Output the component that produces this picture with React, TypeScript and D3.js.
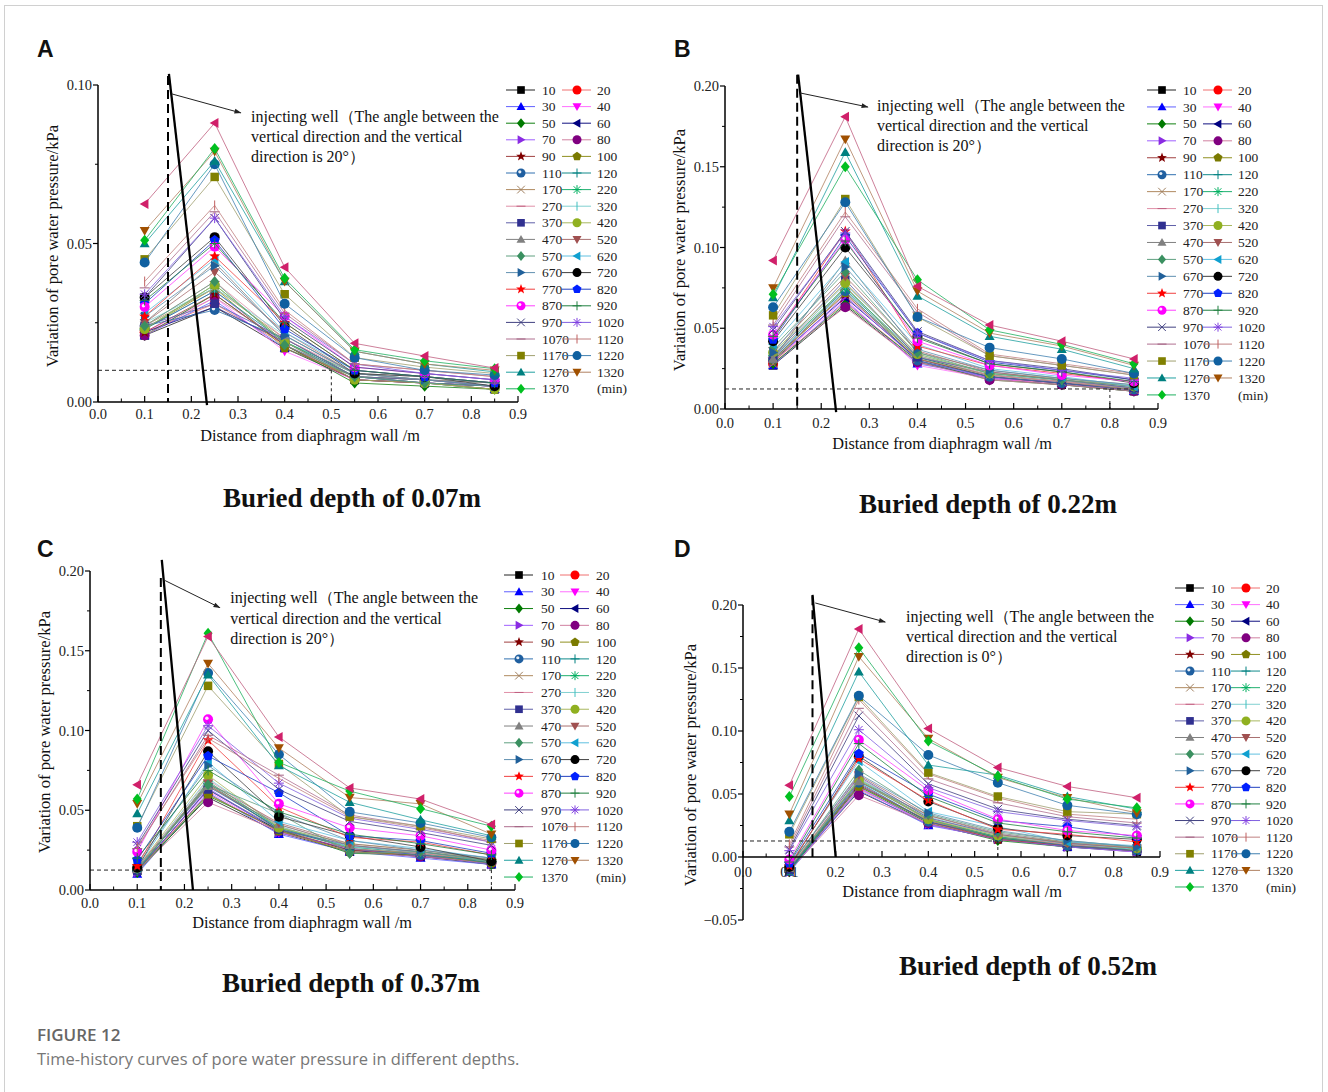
import React from 'react';
import * as d3 from 'd3';

// ---------- DATA ----------
const distances = [0.1, 0.25, 0.4, 0.55, 0.7, 0.85];

const times = [10, 20, 30, 40, 50, 60, 70, 80, 90, 100, 110, 120, 170, 220, 270, 320, 370, 420, 470, 520,
  570, 620, 670, 720, 770, 820, 870, 920, 970, 1020, 1070, 1120, 1170, 1220, 1270, 1320, 1370];
// last series (crimson ◀) has no legend entry in the reference
const extraLabel = '1420';

const markerShapes = ['square', 'circle', 'triUp', 'triDown', 'diamond', 'triLeft', 'triRight', 'circle', 'star', 'pentagon',
  'sphere', 'plus', 'cross', 'asterisk', 'hline', 'vline', 'square', 'circle', 'triUp', 'triDown',
  'diamond', 'triLeft', 'triRight', 'circle', 'star', 'pentagon', 'sphere', 'plus', 'cross', 'asterisk',
  'hline', 'vline', 'square', 'circle', 'triUp', 'triDown', 'diamond', 'triLeft'];

const markerColors = ['#000000', '#ff0000', '#0000ff', '#ff00ff', '#007a00', '#000080', '#8a2be2', '#800080', '#800000', '#7a7a00',
  '#1f5fa0', '#008080', '#a08060', '#00b060', '#c06080', '#40c0c0', '#303090', '#90b020', '#808080', '#a05050',
  '#3a9060', '#10a0d0', '#20609a', '#000000', '#ff0000', '#0020ff', '#ff00ff', '#208040', '#404080', '#8040e0',
  '#a06080', '#c06060', '#808000', '#1060a0', '#008080', '#a05000', '#00c020', '#d0206a'];

const lineColors = ['#222222', '#f07070', '#6060ff', '#ff70ff', '#108010', '#101080', '#a060ff', '#d080a0', '#a04040', '#909020',
  '#3070b0', '#108a8a', '#b08a60', '#20b070', '#e090a8', '#80d0d0', '#6060a8', '#a8b860', '#808080', '#a87070',
  '#60a080', '#60c0e0', '#6090b0', '#404040', '#f04040', '#2040c0', '#ff40ff', '#208040', '#404080', '#8060e0',
  '#b07090', '#c08080', '#a0a070', '#4080b0', '#20a0a0', '#b08060', '#20b060', '#c06080'];

// values at distances 0.1, 0.25, 0.4, 0.55, 0.7, 0.85 (kPa) — one row per time
const depth007 = [
  [0.021, 0.030, 0.017, 0.007, 0.006, 0.004],
  [0.022, 0.031, 0.018, 0.007, 0.006, 0.005],
  [0.021, 0.032, 0.017, 0.008, 0.006, 0.004],
  [0.022, 0.033, 0.016, 0.007, 0.006, 0.005],
  [0.021, 0.034, 0.018, 0.006, 0.005, 0.004],
  [0.022, 0.030, 0.019, 0.007, 0.006, 0.005],
  [0.023, 0.035, 0.018, 0.008, 0.006, 0.005],
  [0.021, 0.033, 0.019, 0.008, 0.007, 0.005],
  [0.022, 0.034, 0.018, 0.007, 0.006, 0.005],
  [0.023, 0.036, 0.017, 0.008, 0.006, 0.004],
  [0.024, 0.029, 0.020, 0.008, 0.006, 0.005],
  [0.023, 0.035, 0.019, 0.008, 0.007, 0.005],
  [0.024, 0.036, 0.020, 0.008, 0.007, 0.005],
  [0.023, 0.037, 0.019, 0.009, 0.007, 0.006],
  [0.024, 0.038, 0.020, 0.009, 0.007, 0.005],
  [0.025, 0.036, 0.021, 0.009, 0.007, 0.006],
  [0.024, 0.031, 0.020, 0.008, 0.007, 0.005],
  [0.023, 0.037, 0.019, 0.007, 0.006, 0.004],
  [0.025, 0.044, 0.021, 0.009, 0.008, 0.006],
  [0.025, 0.041, 0.022, 0.009, 0.007, 0.006],
  [0.024, 0.038, 0.018, 0.008, 0.006, 0.005],
  [0.028, 0.045, 0.022, 0.010, 0.008, 0.006],
  [0.027, 0.043, 0.021, 0.009, 0.007, 0.005],
  [0.033, 0.052, 0.024, 0.009, 0.008, 0.005],
  [0.027, 0.046, 0.025, 0.010, 0.008, 0.006],
  [0.031, 0.051, 0.023, 0.010, 0.008, 0.006],
  [0.030, 0.049, 0.027, 0.011, 0.009, 0.007],
  [0.032, 0.050, 0.025, 0.010, 0.008, 0.006],
  [0.033, 0.058, 0.026, 0.011, 0.009, 0.007],
  [0.034, 0.058, 0.027, 0.012, 0.009, 0.007],
  [0.036, 0.060, 0.028, 0.012, 0.010, 0.008],
  [0.038, 0.062, 0.029, 0.012, 0.010, 0.008],
  [0.045, 0.071, 0.034, 0.014, 0.011, 0.009],
  [0.044, 0.075, 0.031, 0.014, 0.010, 0.0085],
  [0.050, 0.076, 0.038, 0.016, 0.012, 0.0095],
  [0.054, 0.079, 0.038, 0.016, 0.012, 0.010],
  [0.051, 0.080, 0.039, 0.0165, 0.013, 0.0105],
  [0.0625, 0.088, 0.0425, 0.0185, 0.0145, 0.0107],
];

const depth022 = [
  [0.027, 0.064, 0.029, 0.019, 0.015, 0.011],
  [0.028, 0.066, 0.030, 0.019, 0.016, 0.012],
  [0.027, 0.067, 0.028, 0.020, 0.016, 0.011],
  [0.029, 0.068, 0.027, 0.019, 0.015, 0.012],
  [0.028, 0.065, 0.030, 0.018, 0.015, 0.011],
  [0.030, 0.069, 0.031, 0.020, 0.016, 0.012],
  [0.029, 0.070, 0.030, 0.019, 0.017, 0.012],
  [0.030, 0.063, 0.029, 0.018, 0.015, 0.011],
  [0.031, 0.071, 0.031, 0.020, 0.016, 0.012],
  [0.030, 0.072, 0.032, 0.021, 0.017, 0.013],
  [0.031, 0.073, 0.030, 0.020, 0.016, 0.012],
  [0.032, 0.074, 0.032, 0.021, 0.017, 0.013],
  [0.028, 0.076, 0.031, 0.021, 0.017, 0.012],
  [0.033, 0.075, 0.033, 0.022, 0.018, 0.013],
  [0.032, 0.078, 0.033, 0.021, 0.017, 0.013],
  [0.034, 0.077, 0.034, 0.022, 0.018, 0.014],
  [0.033, 0.080, 0.032, 0.023, 0.018, 0.013],
  [0.035, 0.078, 0.034, 0.022, 0.019, 0.014],
  [0.031, 0.092, 0.035, 0.024, 0.019, 0.015],
  [0.036, 0.082, 0.036, 0.023, 0.018, 0.014],
  [0.038, 0.085, 0.035, 0.022, 0.018, 0.014],
  [0.040, 0.091, 0.040, 0.025, 0.020, 0.014],
  [0.035, 0.088, 0.037, 0.024, 0.019, 0.015],
  [0.042, 0.100, 0.045, 0.028, 0.023, 0.016],
  [0.044, 0.110, 0.039, 0.027, 0.022, 0.017],
  [0.043, 0.107, 0.047, 0.029, 0.024, 0.018],
  [0.046, 0.105, 0.042, 0.027, 0.021, 0.017],
  [0.045, 0.104, 0.044, 0.028, 0.023, 0.017],
  [0.049, 0.110, 0.048, 0.030, 0.025, 0.018],
  [0.051, 0.109, 0.047, 0.030, 0.024, 0.019],
  [0.052, 0.119, 0.060, 0.033, 0.027, 0.021],
  [0.055, 0.122, 0.062, 0.034, 0.028, 0.022],
  [0.058, 0.130, 0.057, 0.033, 0.027, 0.021],
  [0.063, 0.128, 0.057, 0.038, 0.031, 0.022],
  [0.069, 0.159, 0.070, 0.045, 0.037, 0.025],
  [0.075, 0.167, 0.073, 0.047, 0.039, 0.027],
  [0.071, 0.150, 0.080, 0.049, 0.040, 0.028],
  [0.092, 0.181, 0.076, 0.052, 0.042, 0.031],
];

const depth037 = [
  [0.012, 0.058, 0.036, 0.024, 0.021, 0.016],
  [0.013, 0.060, 0.037, 0.025, 0.022, 0.017],
  [0.010, 0.061, 0.035, 0.024, 0.020, 0.016],
  [0.012, 0.062, 0.036, 0.026, 0.021, 0.017],
  [0.011, 0.059, 0.038, 0.023, 0.022, 0.016],
  [0.012, 0.063, 0.037, 0.025, 0.021, 0.017],
  [0.011, 0.064, 0.036, 0.026, 0.022, 0.016],
  [0.012, 0.055, 0.037, 0.024, 0.021, 0.017],
  [0.013, 0.066, 0.038, 0.025, 0.023, 0.018],
  [0.012, 0.060, 0.037, 0.024, 0.022, 0.017],
  [0.013, 0.065, 0.039, 0.026, 0.022, 0.018],
  [0.012, 0.067, 0.038, 0.027, 0.023, 0.017],
  [0.013, 0.066, 0.040, 0.026, 0.023, 0.018],
  [0.012, 0.068, 0.039, 0.027, 0.024, 0.018],
  [0.014, 0.069, 0.041, 0.028, 0.023, 0.019],
  [0.013, 0.070, 0.040, 0.027, 0.024, 0.018],
  [0.012, 0.063, 0.038, 0.028, 0.024, 0.019],
  [0.014, 0.072, 0.039, 0.029, 0.025, 0.019],
  [0.013, 0.065, 0.041, 0.028, 0.024, 0.019],
  [0.014, 0.067, 0.042, 0.029, 0.025, 0.020],
  [0.013, 0.066, 0.048, 0.023, 0.024, 0.018],
  [0.014, 0.080, 0.043, 0.031, 0.026, 0.020],
  [0.017, 0.078, 0.048, 0.031, 0.025, 0.020],
  [0.014, 0.087, 0.046, 0.034, 0.027, 0.018],
  [0.015, 0.094, 0.052, 0.033, 0.030, 0.022],
  [0.019, 0.084, 0.061, 0.034, 0.031, 0.023],
  [0.024, 0.107, 0.054, 0.039, 0.034, 0.025],
  [0.020, 0.075, 0.049, 0.035, 0.029, 0.022],
  [0.028, 0.100, 0.063, 0.043, 0.036, 0.028],
  [0.030, 0.103, 0.067, 0.045, 0.038, 0.030],
  [0.026, 0.097, 0.072, 0.047, 0.040, 0.030],
  [0.027, 0.095, 0.070, 0.046, 0.039, 0.031],
  [0.040, 0.128, 0.079, 0.046, 0.040, 0.032],
  [0.039, 0.136, 0.085, 0.049, 0.042, 0.033],
  [0.048, 0.135, 0.078, 0.055, 0.044, 0.034],
  [0.054, 0.142, 0.089, 0.058, 0.054, 0.035],
  [0.057, 0.161, 0.080, 0.062, 0.051, 0.040],
  [0.066, 0.159, 0.096, 0.064, 0.057, 0.041],
];

const depth052 = [
  [-0.010, 0.052, 0.026, 0.014, 0.008, 0.004],
  [-0.011, 0.054, 0.027, 0.014, 0.009, 0.005],
  [-0.012, 0.053, 0.025, 0.015, 0.008, 0.005],
  [-0.009, 0.055, 0.026, 0.014, 0.009, 0.004],
  [-0.011, 0.056, 0.027, 0.013, 0.008, 0.005],
  [-0.010, 0.057, 0.028, 0.015, 0.009, 0.005],
  [-0.012, 0.055, 0.026, 0.014, 0.008, 0.004],
  [-0.011, 0.049, 0.027, 0.015, 0.009, 0.005],
  [-0.010, 0.058, 0.028, 0.014, 0.009, 0.005],
  [-0.009, 0.056, 0.029, 0.015, 0.010, 0.006],
  [-0.011, 0.059, 0.028, 0.016, 0.009, 0.005],
  [-0.010, 0.060, 0.030, 0.015, 0.010, 0.006],
  [-0.009, 0.061, 0.029, 0.016, 0.010, 0.006],
  [-0.012, 0.062, 0.030, 0.016, 0.011, 0.006],
  [-0.008, 0.063, 0.031, 0.017, 0.010, 0.007],
  [-0.009, 0.062, 0.032, 0.017, 0.011, 0.006],
  [-0.010, 0.064, 0.031, 0.018, 0.011, 0.007],
  [-0.008, 0.061, 0.030, 0.017, 0.012, 0.007],
  [-0.009, 0.060, 0.033, 0.019, 0.012, 0.008],
  [-0.007, 0.065, 0.033, 0.018, 0.011, 0.007],
  [-0.008, 0.069, 0.034, 0.020, 0.013, 0.008],
  [-0.006, 0.076, 0.036, 0.024, 0.012, 0.009],
  [-0.007, 0.066, 0.035, 0.021, 0.013, 0.008],
  [-0.008, 0.080, 0.044, 0.023, 0.017, 0.014],
  [-0.007, 0.078, 0.045, 0.022, 0.018, 0.012],
  [-0.005, 0.082, 0.050, 0.029, 0.024, 0.016],
  [-0.002, 0.093, 0.053, 0.030, 0.021, 0.017],
  [-0.004, 0.090, 0.048, 0.027, 0.020, 0.015],
  [0.006, 0.112, 0.058, 0.038, 0.030, 0.025],
  [0.005, 0.101, 0.055, 0.036, 0.029, 0.024],
  [0.008, 0.118, 0.062, 0.043, 0.032, 0.027],
  [0.010, 0.125, 0.066, 0.047, 0.034, 0.030],
  [0.018, 0.127, 0.067, 0.048, 0.036, 0.034],
  [0.020, 0.128, 0.081, 0.059, 0.041, 0.034],
  [0.029, 0.147, 0.073, 0.065, 0.048, 0.038],
  [0.034, 0.159, 0.094, 0.063, 0.047, 0.035],
  [0.048, 0.166, 0.092, 0.064, 0.046, 0.039],
  [0.057, 0.181, 0.102, 0.071, 0.056, 0.047],
];

const panelTitles = ['Buried depth of 0.07m', 'Buried depth of 0.22m', 'Buried depth of 0.37m', 'Buried depth of 0.52m'];
const wellAngles = ['20°', '20°', '20°', '0°'];
const xTickValues = [0, 0.1, 0.2, 0.3, 0.4, 0.5, 0.6, 0.7, 0.8, 0.9];

// ---------- LAYOUT ----------
const SERIF = "'Liberation Serif', 'Times New Roman', serif";

type Cfg = {
  letter: string; lx: number; ly: number;
  x0: number; x9: number; yDomain: [number, number]; yBottom: number; yTop: number;
  yMajor: number[]; yMinor: number[];
  tickDy: number; xTitle: [number, number]; yTitle: [number, number]; title: [number, number];
  legend: { mx: number; tx: number; y0: number; step: number };
  well: { dashTop: number; s0: [number, number]; s1: [number, number]; a0: [number, number]; a1: [number, number]; tx: number; ty: number[] };
  guide: { y: number; x2: number; vx: number };
};

const cfgs: Cfg[] = [
  {
    letter: 'A', lx: 37, ly: 57, x0: 98, x9: 518, yDomain: [0, 0.10], yBottom: 402, yTop: 85,
    yMajor: [0, 0.05, 0.10], yMinor: [0.025, 0.075], tickDy: 17, xTitle: [310, 441], yTitle: [52, 246], title: [352, 507],
    legend: { mx: 521, tx: 542, y0: 90, step: 16.6 },
    well: { dashTop: 0.1028, s0: [0.152, 0.1035], s1: [0.2336, -0.001], a0: [0.158, 0.0972], a1: [0.306, 0.0912], tx: 0.328, ty: [0.0883, 0.0820, 0.0757] },
    guide: { y: 0.01, x2: 0.5, vx: 0.5 },
  },
  {
    letter: 'B', lx: 674, ly: 57, x0: 725, x9: 1158, yDomain: [0, 0.20], yBottom: 409, yTop: 86,
    yMajor: [0, 0.05, 0.10, 0.15, 0.20], yMinor: [0.025, 0.075, 0.125, 0.175], tickDy: 19, xTitle: [942, 449], yTitle: [679, 250], title: [988, 513],
    legend: { mx: 1162, tx: 1183, y0: 90, step: 16.94 },
    well: { dashTop: 0.207, s0: [0.152, 0.207], s1: [0.231, -0.002], a0: [0.156, 0.1957], a1: [0.297, 0.187], tx: 0.316, ty: [0.1845, 0.1721, 0.1598] },
    guide: { y: 0.0124, x2: 0.85, vx: 0.8 },
  },
  {
    letter: 'C', lx: 37, ly: 557, x0: 90, x9: 515, yDomain: [0, 0.20], yBottom: 890, yTop: 571,
    yMajor: [0, 0.05, 0.10, 0.15, 0.20], yMinor: [0.025, 0.075, 0.125, 0.175], tickDy: 18, xTitle: [302, 928], yTitle: [44, 732], title: [351, 992],
    legend: { mx: 519, tx: 541, y0: 575, step: 16.78 },
    well: { dashTop: 0.1956, s0: [0.152, 0.207], s1: [0.218, 0], a0: [0.159, 0.194], a1: [0.275, 0.177], tx: 0.297, ty: [0.180, 0.167, 0.1545] },
    guide: { y: 0.0125, x2: 0.85, vx: 0.85 },
  },
  {
    letter: 'D', lx: 674, ly: 557, x0: 743, x9: 1160, yDomain: [-0.05, 0.20], yBottom: 920, yTop: 605,
    yMajor: [-0.05, 0, 0.05, 0.10, 0.15, 0.20], yMinor: [-0.025, 0.025, 0.075, 0.125, 0.175], tickDy: 20, xTitle: [952, 897], yTitle: [690, 765], title: [1028, 975],
    legend: { mx: 1190, tx: 1211, y0: 588, step: 16.61 },
    well: { dashTop: 0.207, s0: [0.15, 0.208], s1: [0.2, 0], a0: [0.156, 0.2016], a1: [0.307, 0.1865], tx: 0.352, ty: [0.1865, 0.1706, 0.1548] },
    guide: { y: 0.0127, x2: 0.55, vx: 0.55 },
  },
];

const panelData = [depth007, depth022, depth037, depth052];

// ---------- MARKERS ----------
const strokeOnly = new Set(['plus', 'cross', 'asterisk', 'hline', 'vline']);

function symbolPath(type: string, r: number): string {
  const pts = (n: number, rad: number, rot: number) =>
    d3.range(n).map(k => {
      const a = rot + (k * 2 * Math.PI) / n;
      return [rad * Math.sin(a), -rad * Math.cos(a)];
    });
  switch (type) {
    case 'square': { const h = r * 0.85; return `M${-h},${-h}H${h}V${h}H${-h}Z`; }
    case 'circle':
    case 'sphere': return `M${r},0A${r},${r} 0 1,1 ${-r},0A${r},${r} 0 1,1 ${r},0Z`;
    case 'triUp': return `M0,${-r}L${r},${r * 0.75}L${-r},${r * 0.75}Z`;
    case 'triDown': return `M0,${r}L${r},${-r * 0.75}L${-r},${-r * 0.75}Z`;
    case 'triLeft': return `M${-r},0L${r * 0.75},${-r}L${r * 0.75},${r}Z`;
    case 'triRight': return `M${r},0L${-r * 0.75},${-r}L${-r * 0.75},${r}Z`;
    case 'diamond': return `M0,${-r * 1.1}L${r * 0.9},0L0,${r * 1.1}L${-r * 0.9},0Z`;
    case 'star': {
      const o = pts(5, r * 1.15, 0);
      const i = pts(5, r * 0.48, Math.PI / 5);
      const all: number[][] = [];
      for (let k = 0; k < 5; k++) { all.push(o[k]); all.push(i[k]); }
      return 'M' + all.map(p => p.join(',')).join('L') + 'Z';
    }
    case 'pentagon': return 'M' + pts(5, r * 1.05, 0).map(p => p.join(',')).join('L') + 'Z';
    case 'plus': return `M${-r},0H${r}M0,${-r}V${r}`;
    case 'cross': { const c = r * 0.85; return `M${-c},${-c}L${c},${c}M${-c},${c}L${c},${-c}`; }
    case 'asterisk': { const c = r * 0.75; return `M${-r},0H${r}M0,${-r}V${r}M${-c},${-c}L${c},${c}M${-c},${c}L${c},${-c}`; }
    case 'hline': return `M${-r},0H${r}`;
    case 'vline': return `M0,${-r}V${r}`;
    default: return '';
  }
}

function Marker({ i, x, y, r = 5 }: { i: number; x: number; y: number; r?: number }) {
  const shape = markerShapes[i];
  const col = markerColors[i];
  const d = symbolPath(shape, r);
  if (strokeOnly.has(shape)) {
    return <path d={d} transform={`translate(${x},${y})`} fill="none" stroke={col} strokeWidth={1} />;
  }
  return (
    <g transform={`translate(${x},${y})`}>
      <path d={d} fill={col} stroke="none" />
      {shape === 'sphere' && <circle cx={-1.2} cy={-1.2} r={r * 0.35} fill="#ffffff" opacity={0.9} />}
    </g>
  );
}

// ---------- PANEL ----------
function Panel({ cfg, data, idx }: { cfg: Cfg; data: number[][]; idx: number }) {
  const x = d3.scaleLinear().domain([0, 0.9]).range([cfg.x0, cfg.x9]);
  const y = d3.scaleLinear().domain(cfg.yDomain).range([cfg.yBottom, cfg.yTop]);
  const line = d3.line<number>().x((_, k) => x(distances[k])).y(d => y(d));
  const fmt = d3.format('.2f');
  const xFmt = d3.format('.1f');
  const axisY = y(0);
  const minorX = d3.range(0.05, 0.9, 0.1);
  const w = cfg.well;
  const L = cfg.legend;

  return (
    <g>
      <text x={cfg.lx} y={cfg.ly} fontFamily="'Liberation Sans', Arial, sans-serif" fontWeight="bold" fontSize={23} fill="#111">{cfg.letter}</text>

      {/* series */}
      {data.map((row, i) => (
        <g key={i}>
          <path d={line(row) || ''} fill="none" stroke={lineColors[i]} strokeWidth={0.8} />
          {row.map((v, k) => <Marker key={k} i={i} x={x(distances[k])} y={y(v)} />)}
        </g>
      ))}

      {/* guide dashed lines */}
      <line x1={x(0)} x2={x(cfg.guide.x2)} y1={y(cfg.guide.y)} y2={y(cfg.guide.y)} stroke="#222" strokeWidth={1} strokeDasharray="4,3" />
      <line x1={x(cfg.guide.vx)} x2={x(cfg.guide.vx)} y1={y(cfg.guide.y)} y2={axisY} stroke="#222" strokeWidth={1} strokeDasharray="3,3" />

      {/* injecting well */}
      <line x1={x(0.15)} x2={x(0.15)} y1={y(w.dashTop)} y2={axisY} stroke="#000" strokeWidth={2} strokeDasharray="9,5" />
      <line x1={x(w.s0[0])} y1={y(w.s0[1])} x2={x(w.s1[0])} y2={y(w.s1[1])} stroke="#000" strokeWidth={2.3} />
      <line x1={x(w.a0[0])} y1={y(w.a0[1])} x2={x(w.a1[0])} y2={y(w.a1[1])} stroke="#222" strokeWidth={1} markerEnd="url(#arrowHead)" />
      <g fontFamily={SERIF} fontSize={16} fill="#111">
        <text x={x(w.tx)} y={y(w.ty[0])}>injecting well（The angle between the</text>
        <text x={x(w.tx)} y={y(w.ty[1])}>vertical direction and the vertical</text>
        <text x={x(w.tx)} y={y(w.ty[2])}>{`direction is ${wellAngles[idx]}）`}</text>
      </g>

      {/* axes */}
      <line x1={cfg.x0} x2={cfg.x0} y1={cfg.yTop} y2={cfg.yBottom} stroke="#000" strokeWidth={1.5} />
      <line x1={x(0)} x2={x(0.9)} y1={axisY} y2={axisY} stroke="#000" strokeWidth={1.5} />
      {xTickValues.map(t => (
        <g key={t}>
          <line x1={x(t)} x2={x(t)} y1={axisY} y2={axisY - 6} stroke="#000" strokeWidth={1.2} />
          <text x={x(t)} y={axisY + cfg.tickDy} textAnchor="middle" fontFamily={SERIF} fontSize={14.5} fill="#222">{xFmt(t)}</text>
        </g>
      ))}
      {minorX.map(t => <line key={t} x1={x(t)} x2={x(t)} y1={axisY} y2={axisY - 3.5} stroke="#000" strokeWidth={1} />)}
      {cfg.yMajor.map(t => (
        <g key={t}>
          <line x1={cfg.x0} x2={cfg.x0 - 5} y1={y(t)} y2={y(t)} stroke="#000" strokeWidth={1.2} />
          <text x={cfg.x0 - 6} y={y(t) + 5} textAnchor="end" fontFamily={SERIF} fontSize={14.5} fill="#222">{fmt(t)}</text>
        </g>
      ))}
      {cfg.yMinor.map(t => <line key={t} x1={cfg.x0} x2={cfg.x0 - 3} y1={y(t)} y2={y(t)} stroke="#000" strokeWidth={1} />)}

      <text x={cfg.xTitle[0]} y={cfg.xTitle[1]} textAnchor="middle" fontFamily={SERIF} fontSize={16.3} fill="#111">Distance from diaphragm wall /m</text>
      <text transform={`translate(${cfg.yTitle[0]},${cfg.yTitle[1]}) rotate(-90)`} textAnchor="middle" dominantBaseline="central" fontFamily={SERIF} fontSize={16.6} fill="#111">Variation of pore water pressure/kPa</text>

      {/* legend */}
      <g fontFamily={SERIF} fontSize={13.5} fill="#222">
        {times.map((t, i) => {
          const row = Math.floor(i / 2);
          const col = i % 2;
          const cy = L.y0 + row * L.step;
          const mx = L.mx + col * 56;
          const tx = L.tx + col * 55;
          return (
            <g key={t}>
              <line x1={mx - 15} x2={mx + 14} y1={cy} y2={cy} stroke={lineColors[i]} strokeWidth={1} />
              <Marker i={i} x={mx} y={cy} r={4.5} />
              <text x={tx} y={cy + 4.6}>{t}</text>
            </g>
          );
        })}
        <text x={L.tx + 55} y={L.y0 + 18 * L.step + 4.6}>(min)</text>
      </g>

      <text x={cfg.title[0]} y={cfg.title[1]} textAnchor="middle" fontFamily={SERIF} fontWeight="bold" fontSize={27} fill="#111">{panelTitles[idx]}</text>
    </g>
  );
}

export default function App() {
  return (
    <svg width={1328} height={1092} viewBox="0 0 1328 1092"
      style={{ position: 'absolute', left: 0, top: 0, display: 'block', background: '#fff' }}>
      <defs>
        <marker id="arrowHead" viewBox="0 0 10 10" refX={9} refY={5} markerWidth={9} markerHeight={7} orient="auto" markerUnits="userSpaceOnUse">
          <path d="M0,1.5L10,5L0,8.5Z" fill="#222" />
        </marker>
      </defs>
      <rect x={0} y={0} width={1328} height={1092} fill="#fff" />
      <rect x={4.5} y={5.5} width={1318} height={1095} fill="none" stroke="#d0d0d0" strokeWidth={1} />
      {cfgs.map((c, i) => <Panel key={c.letter} cfg={c} data={panelData[i]} idx={i} />)}
      <text x={37} y={1041} fontFamily="'Open Sans', 'Noto Sans', sans-serif" fontWeight={600} fontSize={17} fill="#666">FIGURE 12</text>
      <text x={37} y={1065} fontFamily="'Open Sans', 'Noto Sans', sans-serif" fontSize={16.5} fill="#777">Time-history curves of pore water pressure in different depths.</text>
    </svg>
  );
}
